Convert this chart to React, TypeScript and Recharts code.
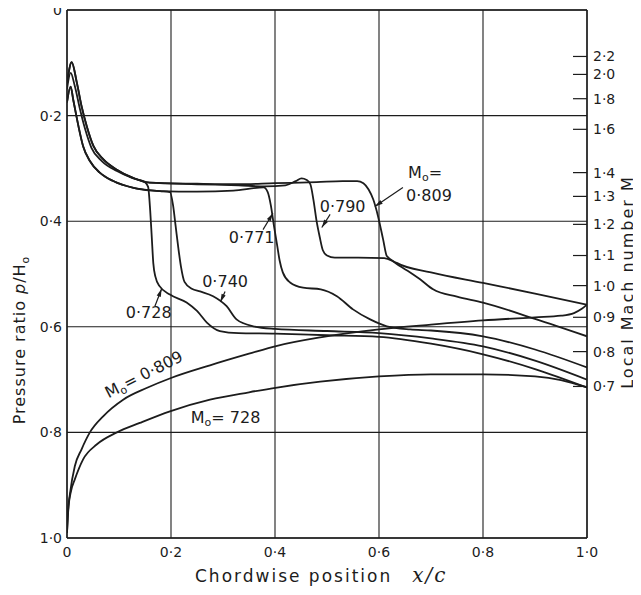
import React from "react";
import {
  CartesianGrid,
  Line,
  LineChart,
  ReferenceDot,
  ReferenceLine,
  XAxis,
  YAxis,
} from "recharts";

// chordwise position x/c ticks and pressure ratio p/H0 ticks
const xTicks = [0, 0.2, 0.4, 0.6, 0.8, 1.0];
const pTicks = [0, 0.2, 0.4, 0.6, 0.8, 1.0];

// right-hand scale: local Mach number, placed at its p/H0 value
const machLabels = ["2·2", "2·0", "1·8", "1·6", "1·4", "1·3", "1·2", "1·1", "1·0", "0·9", "0·8", "0·7"];
const machPositions = [0.088, 0.122, 0.168, 0.226, 0.308, 0.353, 0.406, 0.465, 0.522, 0.582, 0.647, 0.713];

// upper surface, M0 = 0.728
const upper728 = [
  [0, 0.15], [0.007, 0.119], [0.015, 0.144], [0.025, 0.188], [0.035, 0.226], [0.047, 0.261],
  [0.067, 0.286], [0.096, 0.305], [0.125, 0.318], [0.15, 0.326], [0.156, 0.335], [0.16, 0.38],
  [0.163, 0.43], [0.166, 0.48], [0.17, 0.505], [0.178, 0.523], [0.198, 0.539], [0.23, 0.554],
  [0.25, 0.57], [0.269, 0.592], [0.294, 0.608], [0.33, 0.612], [0.4, 0.613], [0.5, 0.616],
  [0.6, 0.619], [0.7, 0.632], [0.8, 0.652], [0.9, 0.68], [1.0, 0.715],
];

// upper surface, M0 = 0.740
const upper740 = [
  [0, 0.175], [0.007, 0.145], [0.012, 0.17], [0.022, 0.22], [0.031, 0.258], [0.044, 0.286],
  [0.063, 0.308], [0.089, 0.324], [0.128, 0.337], [0.179, 0.343], [0.198, 0.345], [0.204, 0.37],
  [0.209, 0.41], [0.214, 0.45], [0.219, 0.485], [0.226, 0.515], [0.24, 0.528], [0.256, 0.533],
  [0.281, 0.542], [0.307, 0.561], [0.326, 0.586], [0.358, 0.599], [0.4, 0.604], [0.5, 0.608],
  [0.6, 0.612], [0.7, 0.622], [0.8, 0.637], [0.9, 0.664], [1.0, 0.7],
];

// upper surface, M0 = 0.771
const upper771 = [
  [0, 0.175], [0.007, 0.145], [0.012, 0.17], [0.022, 0.22], [0.031, 0.258], [0.044, 0.286],
  [0.063, 0.308], [0.089, 0.324], [0.128, 0.337], [0.179, 0.343], [0.25, 0.344], [0.32, 0.342],
  [0.378, 0.336], [0.386, 0.345], [0.392, 0.37], [0.398, 0.409], [0.404, 0.445], [0.409, 0.475],
  [0.415, 0.497], [0.429, 0.516], [0.454, 0.526], [0.488, 0.529], [0.519, 0.542], [0.55, 0.567],
  [0.583, 0.586], [0.615, 0.599], [0.66, 0.605], [0.7, 0.607], [0.8, 0.618], [0.9, 0.643],
  [1.0, 0.677],
];

// upper surface, M0 = 0.790
const upper790 = [
  [0, 0.14], [0.009, 0.099], [0.019, 0.138], [0.028, 0.182], [0.038, 0.22], [0.051, 0.258],
  [0.07, 0.283], [0.095, 0.302], [0.127, 0.318], [0.159, 0.327], [0.25, 0.33], [0.33, 0.332],
  [0.38, 0.334], [0.42, 0.332], [0.44, 0.324], [0.451, 0.319], [0.461, 0.322], [0.468, 0.33],
  [0.474, 0.36], [0.48, 0.4], [0.486, 0.43], [0.492, 0.455], [0.5, 0.465], [0.515, 0.469],
  [0.56, 0.469], [0.61, 0.47], [0.625, 0.475], [0.64, 0.485], [0.66, 0.497], [0.679, 0.51],
  [0.704, 0.529], [0.75, 0.543], [0.8, 0.554], [0.9, 0.585], [1.0, 0.618],
];

// upper surface, M0 = 0.809
const upper809 = [
  [0, 0.14], [0.009, 0.099], [0.019, 0.138], [0.028, 0.182], [0.038, 0.22], [0.051, 0.258],
  [0.07, 0.283], [0.095, 0.302], [0.127, 0.318], [0.159, 0.327], [0.25, 0.329], [0.33, 0.33],
  [0.4, 0.328], [0.48, 0.326], [0.53, 0.324], [0.558, 0.324], [0.57, 0.328], [0.58, 0.34],
  [0.589, 0.359], [0.598, 0.39], [0.608, 0.435], [0.615, 0.466], [0.634, 0.479], [0.7, 0.497],
  [0.8, 0.517], [0.9, 0.537], [1.0, 0.558],
];

// lower surface, M0 = 0.809
const lower809 = [
  [0, 0.99], [0.002, 0.95], [0.006, 0.914], [0.015, 0.864], [0.028, 0.832], [0.044, 0.8],
  [0.07, 0.769], [0.108, 0.738], [0.153, 0.716], [0.2, 0.697], [0.275, 0.673], [0.35, 0.651],
  [0.404, 0.636], [0.487, 0.62], [0.6, 0.605], [0.7, 0.596], [0.8, 0.588], [0.9, 0.582],
  [0.95, 0.579], [0.975, 0.574], [0.99, 0.566], [1.0, 0.558],
];

// lower surface, M0 = 0.728
const lower728 = [
  [0, 0.99], [0.003, 0.94], [0.008, 0.91], [0.015, 0.889], [0.031, 0.851], [0.057, 0.823],
  [0.096, 0.8], [0.14, 0.782], [0.198, 0.76], [0.275, 0.738], [0.35, 0.724], [0.404, 0.715],
  [0.487, 0.704], [0.6, 0.694], [0.7, 0.69], [0.8, 0.69], [0.9, 0.694], [0.95, 0.701],
  [1.0, 0.715],
];

const series = [upper728, upper740, upper771, upper790, upper809, lower809, lower728];

// curve annotations (text start, in chart units)
const notes = [
  { text: "M|o|=", x: 0.656, y: 0.319, angle: 0 },
  { text: "0·809", x: 0.652, y: 0.361, angle: 0 },
  { text: "0·790", x: 0.486, y: 0.383, angle: 0 },
  { text: "0·771", x: 0.311, y: 0.441, angle: 0 },
  { text: "0·740", x: 0.26, y: 0.525, angle: 0 },
  { text: "0·728", x: 0.113, y: 0.583, angle: 0 },
  { text: "M|o|= 0·809", x: 0.08, y: 0.736, angle: -27 },
  { text: "M|o|= 728", x: 0.238, y: 0.782, angle: 0 },
];

const arrows = [
  { x1: 0.646, y1: 0.336, x2: 0.592, y2: 0.372 },
  { x1: 0.506, y1: 0.387, x2: 0.49, y2: 0.412 },
  { x1: 0.377, y1: 0.416, x2: 0.396, y2: 0.385 },
  { x1: 0.304, y1: 0.533, x2: 0.295, y2: 0.553 },
  { x1: 0.169, y1: 0.561, x2: 0.182, y2: 0.528 },
];

const INK = "#1c1c1c";
const FONT = "'DejaVu Sans', sans-serif";

const fmt = (v: number) => (v === 0 ? "0" : v.toFixed(1).replace(".", "·"));

const toPoints = (arr: number[][]) => arr.map(([x, y]) => ({ x, y }));

const NoteText = ({ cx, cy, text, angle }: any) => {
  const parts = text.split("|");
  return (
    <text
      x={cx}
      y={cy}
      fontSize={16}
      fill={INK}
      fontFamily={FONT}
      transform={angle ? `rotate(${angle} ${cx} ${cy})` : undefined}
    >
      {parts.length === 3 ? (
        <>
          {parts[0]}
          <tspan fontSize={11} dy={3}>{parts[1]}</tspan>
          <tspan dy={-3}>{parts[2]}</tspan>
        </>
      ) : (
        text
      )}
    </text>
  );
};

const Arrow = (props: any) => {
  const { x1, y1, x2, y2 } = props;
  const dx = x2 - x1;
  const dy = y2 - y1;
  const len = Math.sqrt(dx * dx + dy * dy) || 1;
  const ux = dx / len;
  const uy = dy / len;
  const bx = x2 - ux * 8;
  const by = y2 - uy * 8;
  return (
    <g>
      <line x1={x1} y1={y1} x2={x2} y2={y2} stroke={INK} strokeWidth={1.2} />
      <polygon
        points={`${x2},${y2} ${bx - uy * 2.2},${by + ux * 2.2} ${bx + uy * 2.2},${by - ux * 2.2}`}
        fill={INK}
      />
    </g>
  );
};

const MachTick = (props: any) => {
  const { x, y, payload } = props;
  const i = machPositions.indexOf(payload.value);
  return (
    <g>
      <line x1={x - 14} y1={y} x2={x} y2={y} stroke={INK} strokeWidth={1.2} />
      <text x={x + 6} y={y} dy="0.35em" fontSize={14} fill={INK} fontFamily={FONT}>
        {machLabels[i]}
      </text>
    </g>
  );
};

const LeftTitle = (props: any) => {
  const vb = props.viewBox;
  const x = vb.x + 17;
  const y = vb.y + 330;
  return (
    <text x={x} y={y} transform={`rotate(-90 ${x} ${y})`} textAnchor="middle" fontSize={16} fill={INK} fontFamily={FONT} letterSpacing={1}>
      Pressure ratio{"  "}
      <tspan fontStyle="italic">p</tspan>/H
      <tspan fontSize={11} dy={4}>o</tspan>
    </text>
  );
};

const RightTitle = (props: any) => {
  const vb = props.viewBox;
  const x = vb.x + 46;
  const y = vb.y + 272;
  return (
    <text x={x} y={y} transform={`rotate(-90 ${x} ${y})`} textAnchor="middle" fontSize={16} fill={INK} fontFamily={FONT} letterSpacing={2}>
      Local Mach number{"  "}M
    </text>
  );
};

const BottomTitle = (props: any) => {
  const vb = props.viewBox;
  return (
    <text x={vb.x + 128} y={vb.y + 44} fontSize={17} fill={INK} fontFamily={FONT} letterSpacing={2}>
      Chordwise position
      <tspan dx={20} fontStyle="italic" fontFamily="'DejaVu Serif', serif" fontSize={20}>x/c</tspan>
    </text>
  );
};

export default function App() {
  return (
    <div style={{ background: "#fff", fontFamily: FONT, marginTop: -8 }}>
      <LineChart
        width={632}
        height={588}
        margin={{ top: 10, right: 0, bottom: 0, left: 0 }}
      >
        <CartesianGrid stroke={INK} strokeWidth={1.1} />
        <XAxis
          type="number"
          dataKey="x"
          domain={[0, 1]}
          ticks={xTicks}
          interval={0}
          tickFormatter={fmt}
          tickSize={0}
          tickMargin={9}
          height={50}
          axisLine={{ stroke: INK, strokeWidth: 1.4 }}
          tick={{ fill: INK, fontSize: 14, fontFamily: FONT }}
          label={BottomTitle}
          allowDataOverflow
        />
        <YAxis
          type="number"
          domain={[0, 1]}
          reversed
          ticks={pTicks}
          interval={0}
          tickFormatter={fmt}
          tickSize={0}
          tickMargin={5}
          width={59}
          axisLine={{ stroke: INK, strokeWidth: 1.4 }}
          tick={{ fill: INK, fontSize: 14, fontFamily: FONT }}
          label={LeftTitle}
          allowDataOverflow
        />
        <YAxis
          yAxisId="mach"
          orientation="right"
          type="number"
          domain={[0, 1]}
          reversed
          ticks={machPositions}
          interval={0}
          tickSize={0}
          tickMargin={0}
          tickLine={false}
          width={53}
          axisLine={{ stroke: INK, strokeWidth: 1.4 }}
          tick={MachTick}
          label={RightTitle}
          allowDataOverflow
        />
        <ReferenceLine y={0} stroke={INK} strokeWidth={1.4} />
        {series.map((s, i) => (
          <Line
            key={i}
            data={toPoints(s)}
            dataKey="y"
            type="monotone"
            dot={false}
            activeDot={false}
            stroke={INK}
            strokeWidth={1.8}
            isAnimationActive={false}
          />
        ))}
        {arrows.map((a, i) => (
          <ReferenceLine
            key={"a" + i}
            segment={[{ x: a.x1, y: a.y1 }, { x: a.x2, y: a.y2 }]}
            shape={Arrow}
            ifOverflow="visible"
          />
        ))}
        {notes.map((n, i) => (
          <ReferenceDot
            key={"n" + i}
            x={n.x}
            y={n.y}
            r={0}
            ifOverflow="visible"
            shape={(p: any) => <NoteText cx={p.cx} cy={p.cy} text={n.text} angle={n.angle} />}
          />
        ))}
      </LineChart>
    </div>
  );
}
